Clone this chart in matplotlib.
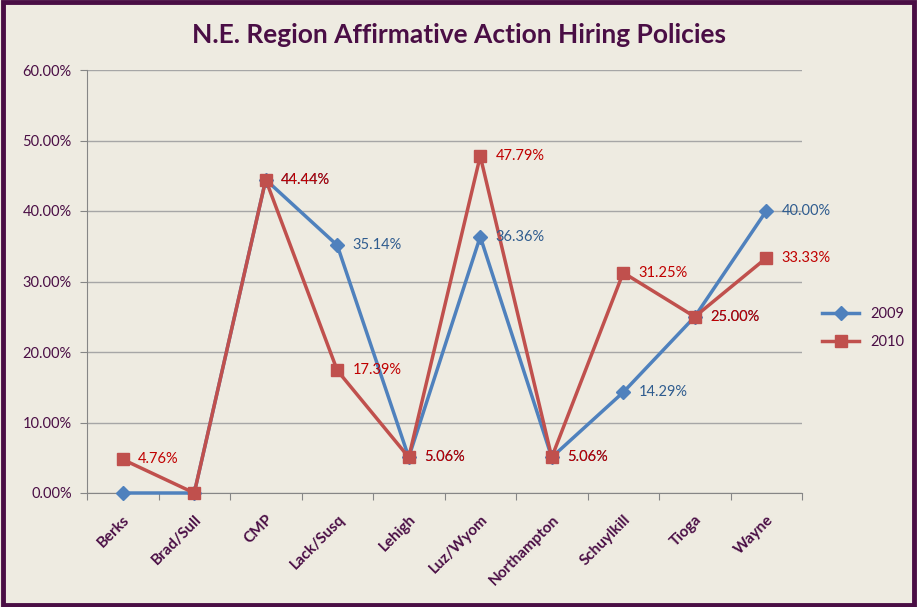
import matplotlib.pyplot as plt
from matplotlib.patches import Rectangle

counties = ["Berks", "Brad/Sull", "CMP", "Lack/Susq", "Lehigh", "Luz/Wyom",
            "Northampton", "Schuylkill", "Tioga", "Wayne"]
pct_2009 = [0.00, 0.00, 44.44, 35.14, 5.06, 36.36, 5.06, 14.29, 25.00, 40.00]
pct_2010 = [4.76, 0.00, 44.44, 17.39, 5.06, 47.79, 5.06, 31.25, 25.00, 33.33]
y_ticks = [0, 10, 20, 30, 40, 50, 60]

purple = "#4A0E45"
bg = "#EEEBE1"
blue = "#4F81BD"
red = "#C0504D"

plt.rcParams['font.family'] = ['Lato', 'DejaVu Sans']

fig = plt.figure(figsize=(9.17, 6.07), dpi=100)
fig.patch.set_facecolor(bg)
fig.patches.append(Rectangle((0.003, 0.003), 0.994, 0.994, transform=fig.transFigure,
                             fill=False, edgecolor=purple, linewidth=3.5))

ax = fig.add_axes([87 / 917, 1 - 493 / 607, (802 - 87) / 917, (493 - 70) / 607])
ax.set_facecolor(bg)

x = list(range(len(counties)))
ax.plot(x, pct_2009, color=blue, linewidth=2.5, marker="D", markersize=7, label="2009",
        zorder=3, clip_on=False)
ax.plot(x, pct_2010, color=red, linewidth=2.5, marker="s", markersize=9, label="2010",
        zorder=4, clip_on=False)

for i, v in enumerate(pct_2009):
    if v > 0:
        ax.annotate(f"{v:.2f}%", (i, v), xytext=(11, 0), textcoords="offset points",
                    va="center", ha="left", color="#2F5C8F", fontsize=10.5, zorder=5)
for i, v in enumerate(pct_2010):
    if v > 0:
        ax.annotate(f"{v:.2f}%", (i, v), xytext=(11, 0), textcoords="offset points",
                    va="center", ha="left", color="#C00000", fontsize=10.5, zorder=6)

ax.set_xlim(-0.5, len(counties) - 0.5)
ax.set_ylim(0, 60)
ax.set_yticks(y_ticks)
ax.set_yticklabels([f"{t:.2f}%" for t in y_ticks], color=purple, fontsize=10.5)
ax.yaxis.grid(True, color="#A6A6A6", linewidth=1)
ax.set_axisbelow(True)

ax.set_xticks([i - 0.5 for i in range(len(counties) + 1)])
ax.set_xticklabels([])
ax.set_xticks(x, minor=True)
ax.set_xticklabels(counties, minor=True, rotation=45, ha="right", va="top",
                   rotation_mode="anchor", color=purple, fontsize=11, fontweight="bold")
ax.tick_params(axis="x", which="minor", length=0, pad=14)
ax.tick_params(axis="x", which="major", length=5, color="#868686")
ax.tick_params(axis="y", length=5, color="#868686", pad=6)

for s in ["top", "right"]:
    ax.spines[s].set_visible(False)
for s in ["left", "bottom"]:
    ax.spines[s].set_color("#868686")

fig.text(0.5, 1 - 35 / 607, "N.E. Region Affirmative Action Hiring Policies",
         ha="center", va="center", fontsize=19, fontweight="bold", color=purple)

leg = ax.legend(loc="center left", bbox_to_anchor=(1.01, 0.39), frameon=False,
                fontsize=10.5, labelcolor=purple, handlelength=2.5, labelspacing=1.0)

fig.savefig("out.png", dpi=100, facecolor=bg)
